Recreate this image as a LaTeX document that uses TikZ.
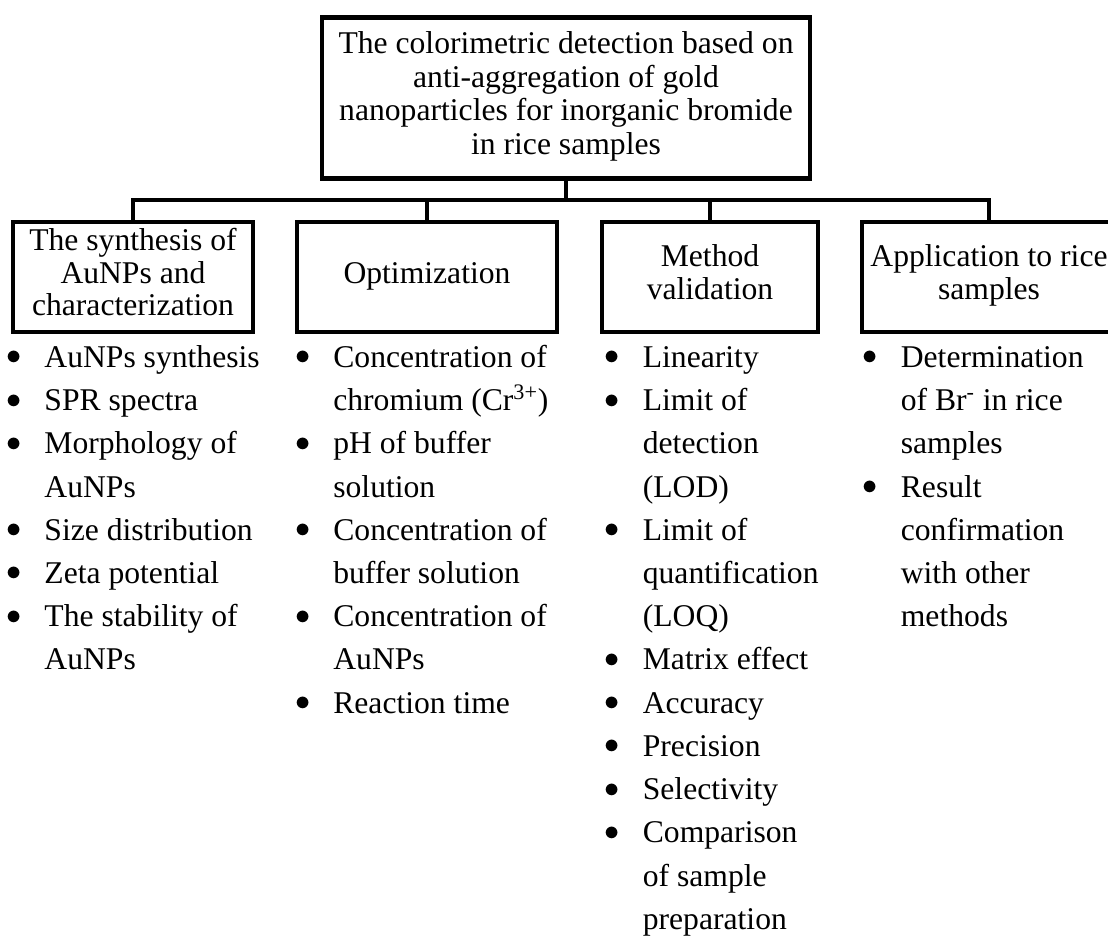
\documentclass[tikz,border=0pt]{standalone}
\usepackage{fontspec}
\setmainfont{Liberation Serif}
\usetikzlibrary{positioning}

\newcommand{\bul}{\strut\makebox[0pt]{\raisebox{0.08em}{$\bullet$}}\hspace*{0.61cm}}
\newcommand{\ind}{\hspace*{0.61cm}}

\begin{document}
\begin{tikzpicture}[
            every node/.append style={black,inner sep=0pt},
            box/.style={draw,line width=2.5pt,align=center,minimum height=2.2cm,
                font=\fontsize{18}{18.4}\selectfont,
                execute at begin node=\strut,execute at end node=\strut},
            items/.style={anchor=north west,align=left,font=\fontsize{18}{24.6}\selectfont},
            tree/.style={line width=2.5pt}
        ]
            \useasboundingbox (0,0) rectangle (22.16,-18.8);

            % main box
            \node[box,minimum width=9.76cm,minimum height=3.22cm,font=\fontsize{18}{19.1}\selectfont] (top) at (11.32,-1.96)
                {The colorimetric detection based on\\anti-aggregation of gold\\nanoparticles for inorganic bromide\\in rice samples};

            % branches
            \node[box,minimum width=4.8cm] (synth) at (2.66,-5.54) {The synthesis of\\AuNPs and\\characterization};
            \node[box,minimum width=5.2cm] (optim) at (8.54,-5.54) {Optimization};
            \node[box,minimum width=4.32cm] (valid) at (14.2,-5.54) {Method\\validation};
            \node[box,minimum width=5.08cm] (appl) at (19.78,-5.54) {Application to rice\\samples};

            \coordinate (split) at (11.32,-4);
            \draw[tree] (top) -- (split);
            \draw[tree] (synth) |- (split) -| (appl);
            \draw[tree] (optim) -- (optim |- split);
            \draw[tree] (valid) -- (valid |- split);

            % bullet lists
            \node[items] (synthlist) at (0.272,-6.734)
                {\bul AuNPs synthesis\\
                 \bul SPR spectra\\
                 \bul Morphology of\\
                 \ind AuNPs\\
                 \bul Size distribution\\
                 \bul Zeta potential\\
                 \bul The stability of\\
                 \ind AuNPs};
            \node[items] (optimlist) at (6.05,-6.734)
                {\bul Concentration of\\
                 \ind chromium (Cr\textsuperscript{3+})\\
                 \bul pH of buffer\\
                 \ind solution\\
                 \bul Concentration of\\
                 \ind buffer solution\\
                 \bul Concentration of\\
                 \ind AuNPs\\
                 \bul Reaction time};
            \node[items] (validlist) at (12.24,-6.734)
                {\bul Linearity\\
                 \bul Limit of\\
                 \ind detection\\
                 \ind (LOD)\\
                 \bul Limit of\\
                 \ind quantification\\
                 \ind (LOQ)\\
                 \bul Matrix effect\\
                 \bul Accuracy\\
                 \bul Precision\\
                 \bul Selectivity\\
                 \bul Comparison\\
                 \ind of sample\\
                 \ind preparation};
            \node[items] (appllist) at (17.4,-6.734)
                {\bul Determination\\
                 \ind of Br\textsuperscript{-} in rice\\
                 \ind samples\\
                 \bul Result\\
                 \ind confirmation\\
                 \ind with other\\
                 \ind methods};
        \end{tikzpicture}
\end{document}
